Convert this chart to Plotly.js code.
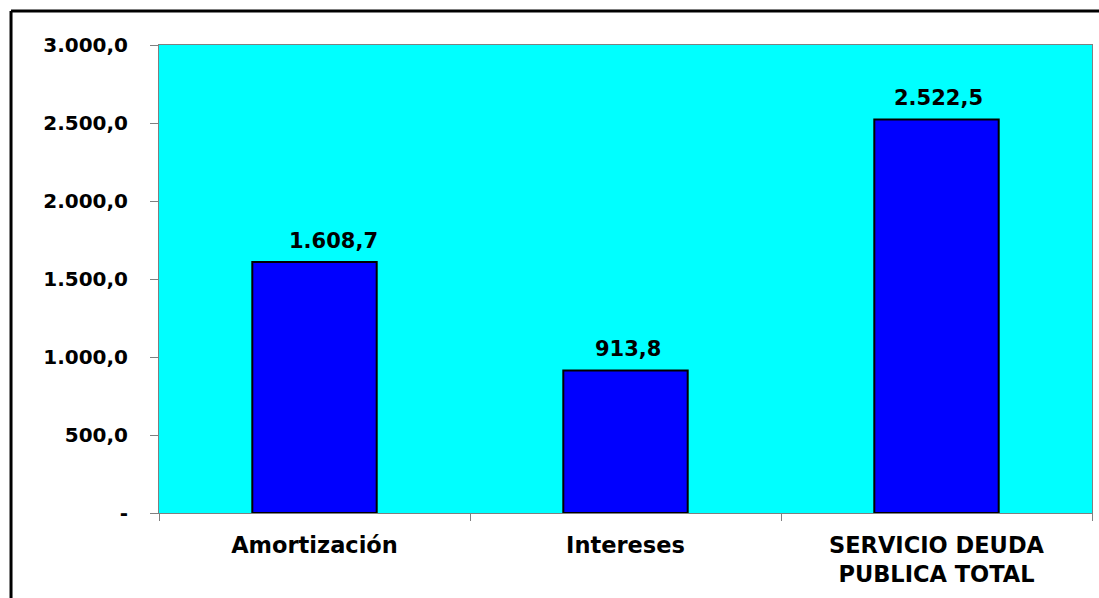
<!DOCTYPE html>
<html>
<head>
<meta charset="utf-8">
<script src="https://cdn.plot.ly/plotly-3.0.1.min.js"></script>
<style>
html,body{margin:0;padding:0;background:#fff;}
#chart{width:1099px;height:598px;}
</style>
</head>
<body>
<div id="chart"></div>
<script>
const categories = ["Amortización", "Intereses", "SERVICIO DEUDA<br>PUBLICA TOTAL"];
const values = [1608.7, 913.8, 2522.5];
const valueLabels = ["1.608,7", "913,8", "2.522,5"];
const yTickVals = [0, 500, 1000, 1500, 2000, 2500, 3000];
const yTickText = ["-", "500,0", "1.000,0", "1.500,0", "2.000,0", "2.500,0", "3.000,0"];

const FONT = "DejaVu Sans, Arial, sans-serif";

const trace = {
  type: "bar",
  x: categories,
  y: values,
  width: 0.4,
  marker: {color: "#0000FF", line: {color: "#000000", width: 2}},
  hoverinfo: "skip"
};

const annotations = categories.map((c, i) => ({
  x: c, y: values[i], xref: "x", yref: "y",
  text: "<b>" + valueLabels[i] + "</b>",
  showarrow: false, yanchor: "bottom", yshift: 7,
  xshift: i === 0 ? 19 : 2,
  font: {family: FONT, size: 21, color: "#000"}
}));

const layout = {
  width: 1099, height: 598,
  margin: {l: 159, r: 7, t: 45, b: 85},
  paper_bgcolor: "#FFFFFF",
  plot_bgcolor: "#00FFFF",
  showlegend: false,
  bargap: 0.6,
  xaxis: {
    type: "category",
    tickson: "boundaries",
    ticks: "outside", ticklen: 7, tickcolor: "#808080", tickwidth: 1,
    showline: true, linecolor: "#808080", linewidth: 1, mirror: true,
    showgrid: false, zeroline: false,
    ticklabelstandoff: 12,
    tickfont: {family: FONT, size: 22.5, color: "#000", weight: "bold"},
    fixedrange: true
  },
  yaxis: {
    range: [0, 3000],
    tickvals: yTickVals, ticktext: yTickText,
    ticks: "outside", ticklen: 8, tickcolor: "#808080", tickwidth: 1,
    showline: true, linecolor: "#808080", linewidth: 1, mirror: true,
    showgrid: false, zeroline: false,
    ticklabelstandoff: 18,
    tickfont: {family: FONT, size: 20, color: "#000", weight: "bold"},
    fixedrange: true
  },
  annotations: annotations,
  shapes: [
    {type: "line", xref: "paper", yref: "paper", x0: -0.1586, x1: 1.02, y0: 1.0726, y1: 1.0726, line: {color: "#000", width: 3}},
    {type: "line", xref: "paper", yref: "paper", x0: -0.1586, x1: -0.1586, y0: 1.0726, y1: -0.2, line: {color: "#000", width: 3}}
  ]
};

Plotly.newPlot("chart", [trace], layout, {displayModeBar: false, staticPlot: true});
</script>
</body>
</html>
